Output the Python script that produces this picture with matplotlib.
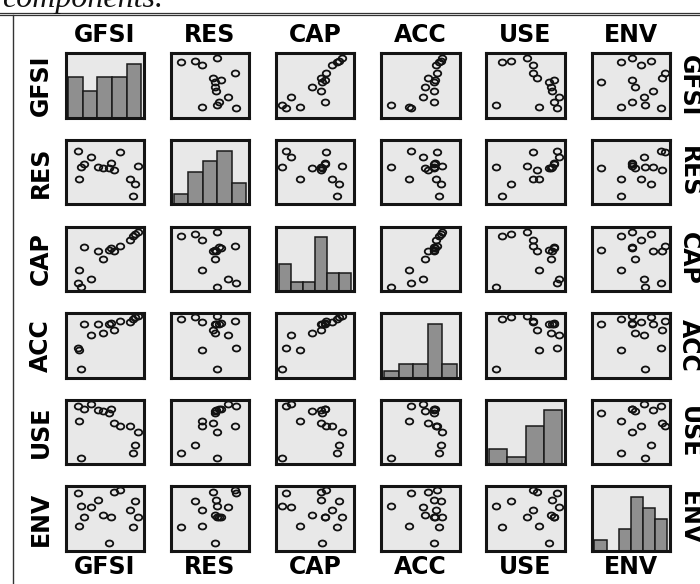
import numpy as np
import matplotlib
matplotlib.use("Agg")
import matplotlib.pyplot as plt
from matplotlib.lines import Line2D
from matplotlib.path import Path
from matplotlib.transforms import Affine2D

names = ["GFSI", "RES", "CAP", "ACC", "USE", "ENV"]

# indicator scores for the fifteen countries (same order in every list)
gfsi = [86, 88, 20, 17, 15.5, 92, 82, 69, 62, 58.5, 56, 48, 42, 33, 24]
res = [12.5, 31.5, 58.5, 39.5, 83.5, 59, 39.5, 81.5, 54, 64, 57, 56, 57.5, 73.5, 62]
cap = [78, 81, 8, 31, 13, 84, 72, 64, 57, 62, 59, 46, 58, 19, 63]
acc = [74, 76.5, 12.5, 35, 37.5, 77, 70, 71, 60, 69, 67, 56, 68, 54, 67]
use = [20, 32, 12.7, 67.5, 90, 52, 60, 60, 65, 86, 80, 83, 84, 93, 86]
env = [37, 76, 68, 38, 88, 52, 63, 93, 90, 52, 12, 55, 78, 67, 51.5]

data = [gfsi, res, cap, acc, use, env]

# histogram bins per variable: (number of bins, range)
hist_bins = [5, 5, 6, 5, 4, 6]
hist_range = [(4, 94), (7, 92), (6.8, 94.4), (7.5, 92.5), (8, 94), (6, 96)]

# axis limits when a variable is on the x axis / on the y axis
x_lims = [(0, 100)] * 6
y_lims = [(0, 100), (0, 100), (2.7, 91), (1.4, 81), (4, 99), (1, 98)]

W, H = 700, 584
fig = plt.figure(figsize=(W / 100, H / 100), dpi=100)
fig.patch.set_facecolor("white")

x0, dx, pw = 65.5, 105.2, 78.5
y0, dy, ph = 53.3, 86.6, 64.5


def rect(col, row):
    left = (x0 + col * dx) / W
    bottom = 1 - (y0 + row * dy + ph) / H
    return [left, bottom, pw / W, ph / H]


# slightly wide open circle
oval = Path.unit_circle().transformed(Affine2D().scale(1.25, 1.0))

n = len(names)
for r in range(n):
    for c in range(n):
        ax = fig.add_axes(rect(c, r))
        ax.set_facecolor("#e8e8e8")
        for s in ax.spines.values():
            s.set_linewidth(2.2)
            s.set_color("#141414")
        ax.set_xticks([])
        ax.set_yticks([])
        if r == c:
            lo, hi = hist_range[c]
            counts, edges = np.histogram(data[c], bins=hist_bins[c], range=(lo, hi))
            ax.bar(edges[:-1], counts, width=np.diff(edges), align="edge",
                   color="#8f8f8f", edgecolor="#1a1a1a", linewidth=1.1)
            pad = 0.04 * (hi - lo)
            ax.set_xlim(lo - pad, hi + pad)
            ax.set_ylim(0, counts.max() * 1.2)
        else:
            ax.plot(data[c], data[r], linestyle="none", marker=oval, ms=5.4,
                    mfc="none", mec="#111111", mew=1.3)
            ax.set_xlim(*x_lims[c])
            ax.set_ylim(*y_lims[r])

lab = dict(fontsize=17, fontweight="bold", family="DejaVu Sans", color="black")
for i, name in enumerate(names):
    cx = (x0 + i * dx + pw / 2) / W
    cy = 1 - (y0 + i * dy + ph / 2) / H
    fig.text(cx, 1 - 35.5 / H, name, ha="center", va="center", **lab)
    fig.text(cx, 1 - 567.5 / H, name, ha="center", va="center", **lab)
    fig.text(41 / W, cy, name, ha="center", va="center", rotation=90, **lab)
    fig.text(689 / W, cy, name, ha="center", va="center", rotation=-90, **lab)

# end of the caption line above the frame
fig.text(2 / W, 1 - 7 / H, "components.", ha="left", va="baseline",
         fontsize=23, style="italic", family="Liberation Serif", color="#111111")

# frame around the figure
for yy in (12.5, 14.8):
    fig.add_artist(Line2D([0, 1], [1 - yy / H] * 2, transform=fig.transFigure,
                          color="#333333", lw=0.9))
fig.add_artist(Line2D([12.5 / W] * 2, [0, 1 - 14.8 / H], transform=fig.transFigure,
                      color="#333333", lw=1.0))

fig.savefig("out.png", dpi=100)
